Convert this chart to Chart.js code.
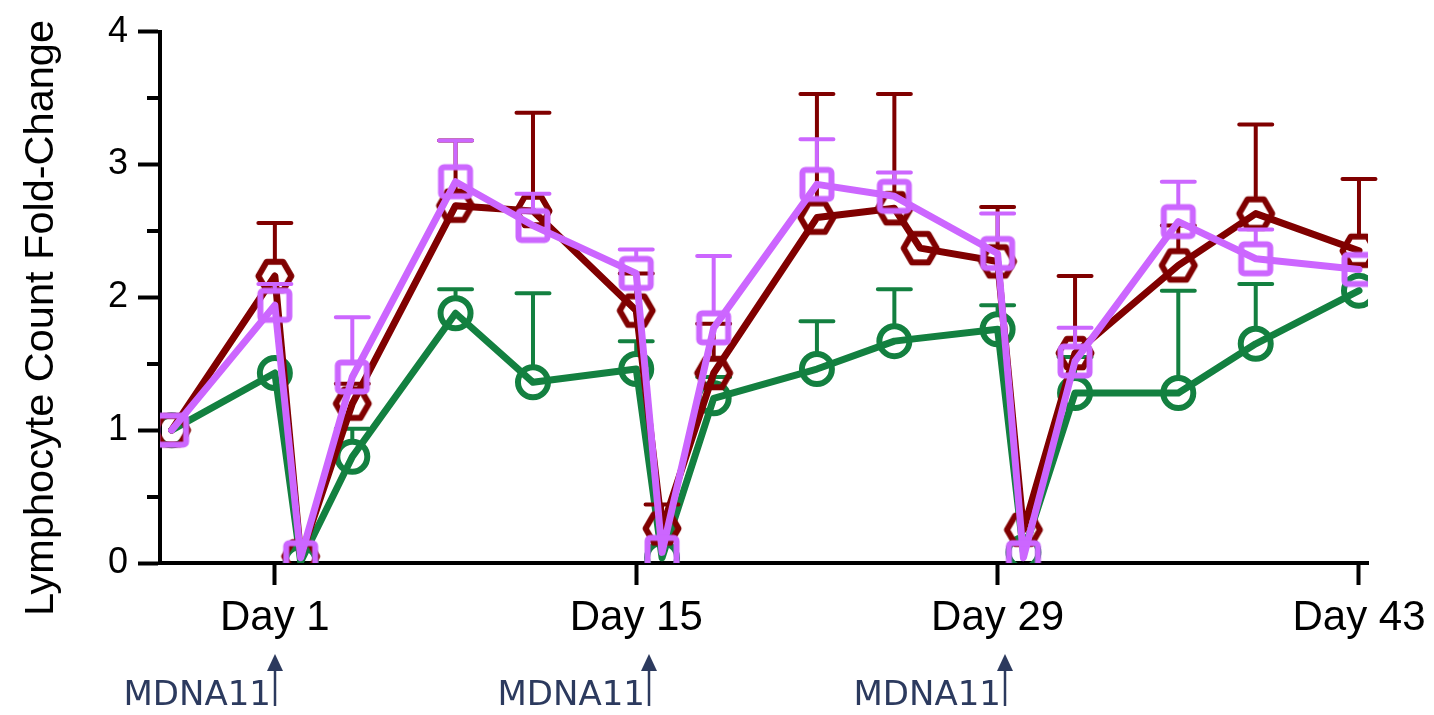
<!DOCTYPE html>
<html><head><meta charset="utf-8">
<script src="https://cdn.jsdelivr.net/npm/chart.js@4.4.0/dist/chart.umd.min.js"></script>
<style>html,body{margin:0;padding:0;background:#fff;}#wrap{width:1434px;height:715px;position:relative;}canvas{display:block;}</style>
</head><body><div id="wrap"><canvas id="c" width="1434" height="715"></canvas></div>
<script>
// ---------- data ----------
const yTitle = 'Lymphocyte Count Fold-Change';
const xTickDays = [1, 15, 29, 43];
const xTickPrefix = 'Day ';
const yTickValues = [0, 1, 2, 3, 4];
const yMinorTicks = [0.5, 1.5, 2.5, 3.5];
const doseDays = [1, 15.5, 29.3];
const doseLabel = 'MDNA11';

const daysA = [-3, 1, 2, 4, 8, 11, 15, 16, 18, 22, 25, 29, 30, 32, 36, 39, 43];
const daysB = [-3, 1, 2, 4, 8, 11, 15, 16, 18, 22, 25, 26, 29, 30, 32, 36, 39, 43];

const greenMean = [1.00, 1.43, 0.01, 0.80, 1.88, 1.36, 1.46, 0.04, 1.24, 1.46, 1.67, 1.76, 0.08, 1.28, 1.28, 1.65, 2.05];
const greenSD   = [0, 0, 0, 0.21, 0.18, 0.67, 0.21, 0, 0.16, 0.36, 0.39, 0.18, 0, 0.27, 0.77, 0.45, 0];

const redMean = [1.00, 2.16, 0.05, 1.20, 2.69, 2.65, 1.90, 0.26, 1.43, 2.60, 2.67, 2.37, 2.27, 0.25, 1.58, 2.24, 2.63, 2.35];
const redSD   = [0, 0.40, 0, 0.15, 0.49, 0.74, 0.28, 0.18, 0.37, 0.93, 0.86, 0, 0.41, 0.10, 0.58, 0.30, 0.67, 0.54];

const pinkMean = [1.00, 1.94, 0.04, 1.40, 2.87, 2.54, 2.18, 0.08, 1.77, 2.85, 2.76, 2.33, 0.04, 1.52, 2.57, 2.29, 2.21];
const pinkSD   = [0, 0.16, 0, 0.45, 0.31, 0.24, 0.18, 0, 0.54, 0.34, 0.18, 0.30, 0, 0.25, 0.30, 0.22, 0];

// ---------- styles ----------
const PINK = '#cc66ff', RED = '#800000', GREEN = '#138040', NAVY = '#2c3a5e';

function makeMarker(kind, color) {
  const S = 50, m = S / 2;
  const c = document.createElement('canvas');
  c.width = S; c.height = S;
  const g = c.getContext('2d');
  g.strokeStyle = color; g.lineWidth = 6; g.lineJoin = 'round';
  g.beginPath();
  if (kind === 'square') {
    const h = 14.5, r = 3;
    g.moveTo(m - h + r, m - h);
    g.arcTo(m + h, m - h, m + h, m + h, r);
    g.arcTo(m + h, m + h, m - h, m + h, r);
    g.arcTo(m - h, m + h, m - h, m - h, r);
    g.arcTo(m - h, m - h, m + h, m - h, r);
    g.closePath();
  } else {
    const R = 16.5;
    for (let i = 0; i < 6; i++) {
      const a = i * Math.PI / 3;
      const px = m + R * Math.cos(a), py = m + R * Math.sin(a);
      if (i === 0) g.moveTo(px, py); else g.lineTo(px, py);
    }
    g.closePath();
  }
  g.stroke();
  return c;
}

const pts = (days, vals) => days.map((d, i) => ({x: d, y: vals[i]}));

const errorBars = {
  id: 'errorBars',
  beforeDatasetDraw(chart, args) {
    const ds = chart.data.datasets[args.index];
    const ys = chart.scales.y, ctx = chart.ctx;
    ctx.save();
    ctx.strokeStyle = ds.borderColor; ctx.lineWidth = 4; ctx.lineCap = 'round';
    args.meta.data.forEach((p, i) => {
      const sd = ds.errUp[i];
      if (!sd) return;
      const top = ys.getPixelForValue(ds.data[i].y + sd);
      const start = p.y - ds.markerHalf;
      if (top >= start) return;
      ctx.beginPath();
      ctx.moveTo(p.x, start); ctx.lineTo(p.x, top);
      ctx.moveTo(p.x - 16.5, top); ctx.lineTo(p.x + 16.5, top);
      ctx.stroke();
    });
    ctx.restore();
  }
};

const extras = {
  id: 'extras',
  afterDraw(chart) {
    const ctx = chart.ctx, xs = chart.scales.x, ys = chart.scales.y;
    ctx.save();
    // minor y ticks
    ctx.strokeStyle = '#000'; ctx.lineWidth = 4;
    yMinorTicks.forEach(v => {
      const y = Math.round(ys.getPixelForValue(v));
      ctx.beginPath(); ctx.moveTo(chart.chartArea.left - 13, y); ctx.lineTo(chart.chartArea.left, y); ctx.stroke();
    });
    // y title
    ctx.save();
    ctx.translate(53, 318);
    ctx.rotate(-Math.PI / 2);
    ctx.fillStyle = '#000';
    ctx.font = '41.5px "Liberation Sans", Arial, sans-serif';
    ctx.textAlign = 'center'; ctx.textBaseline = 'alphabetic';
    ctx.fillText(yTitle, 0, 0);
    ctx.restore();
    // dose annotations
    ctx.fillStyle = NAVY; ctx.strokeStyle = NAVY; ctx.lineWidth = 2.5;
    ctx.font = '34px "DejaVu Sans", sans-serif';
    ctx.textAlign = 'right'; ctx.textBaseline = 'alphabetic';
    doseDays.forEach(d => {
      const x = Math.round(xs.getPixelForValue(d));
      ctx.beginPath(); ctx.moveTo(x, 706); ctx.lineTo(x, 668); ctx.stroke();
      ctx.beginPath(); ctx.moveTo(x, 654); ctx.lineTo(x + 8, 671); ctx.lineTo(x - 8, 671); ctx.closePath(); ctx.fill();
      ctx.fillText(doseLabel, x - 4, 705);
    });
    ctx.restore();
  }
};

const baseDs = {
  showLine: true, borderWidth: 7, borderJoinStyle: 'round', borderCapStyle: 'round', tension: 0,
  pointBorderWidth: 0, pointBackgroundColor: 'rgba(0,0,0,0)', pointRadius: 16, fill: false
};

new Chart(document.getElementById('c'), {
  type: 'line',
  data: {
    datasets: [
      Object.assign({}, baseDs, {label: 'pink', data: pts(daysA, pinkMean), errUp: pinkSD, markerHalf: 17,
        borderColor: PINK, pointStyle: makeMarker('square', PINK)}),
      Object.assign({}, baseDs, {label: 'red', data: pts(daysB, redMean), errUp: redSD, markerHalf: 17,
        borderColor: RED, pointStyle: makeMarker('hex', RED)}),
      Object.assign({}, baseDs, {label: 'green', data: pts(daysA, greenMean), errUp: greenSD, markerHalf: 17,
        borderColor: GREEN, pointStyle: 'circle', pointRadius: 15, pointBorderWidth: 6, pointBorderColor: GREEN})
    ]
  },
  options: {
    responsive: false, devicePixelRatio: 1, animation: false, events: [],
    layout: {padding: {left: 0, right: 64, top: 31, bottom: 0}},
    plugins: {legend: {display: false}, tooltip: {enabled: false}},
    scales: {
      x: {
        type: 'linear', min: -3.45, max: 43.35,
        afterBuildTicks: s => { s.ticks = xTickDays.map(v => ({value: v})); },
        afterFit: s => { s.height = 152; },
        border: {display: true, color: '#000', width: 4},
        grid: {drawOnChartArea: false, drawTicks: true, tickLength: 22, tickWidth: 4, tickColor: '#000'},
        ticks: {font: {family: '"Liberation Sans", Arial, sans-serif', size: 42}, color: '#000', padding: 8,
          maxRotation: 0, autoSkip: false, callback: v => xTickPrefix + v}
      },
      y: {
        type: 'linear', min: 0, max: 4,
        afterBuildTicks: s => { s.ticks = yTickValues.map(v => ({value: v})); },
        afterFit: s => { s.width = 160; },
        border: {display: true, color: '#000', width: 4},
        grid: {drawOnChartArea: false, drawTicks: true, tickLength: 22, tickWidth: 4, tickColor: '#000'},
        ticks: {font: {family: '"Liberation Sans", Arial, sans-serif', size: 36}, color: '#000', padding: 10}
      }
    }
  },
  plugins: [errorBars, extras]
});
</script></body></html>
